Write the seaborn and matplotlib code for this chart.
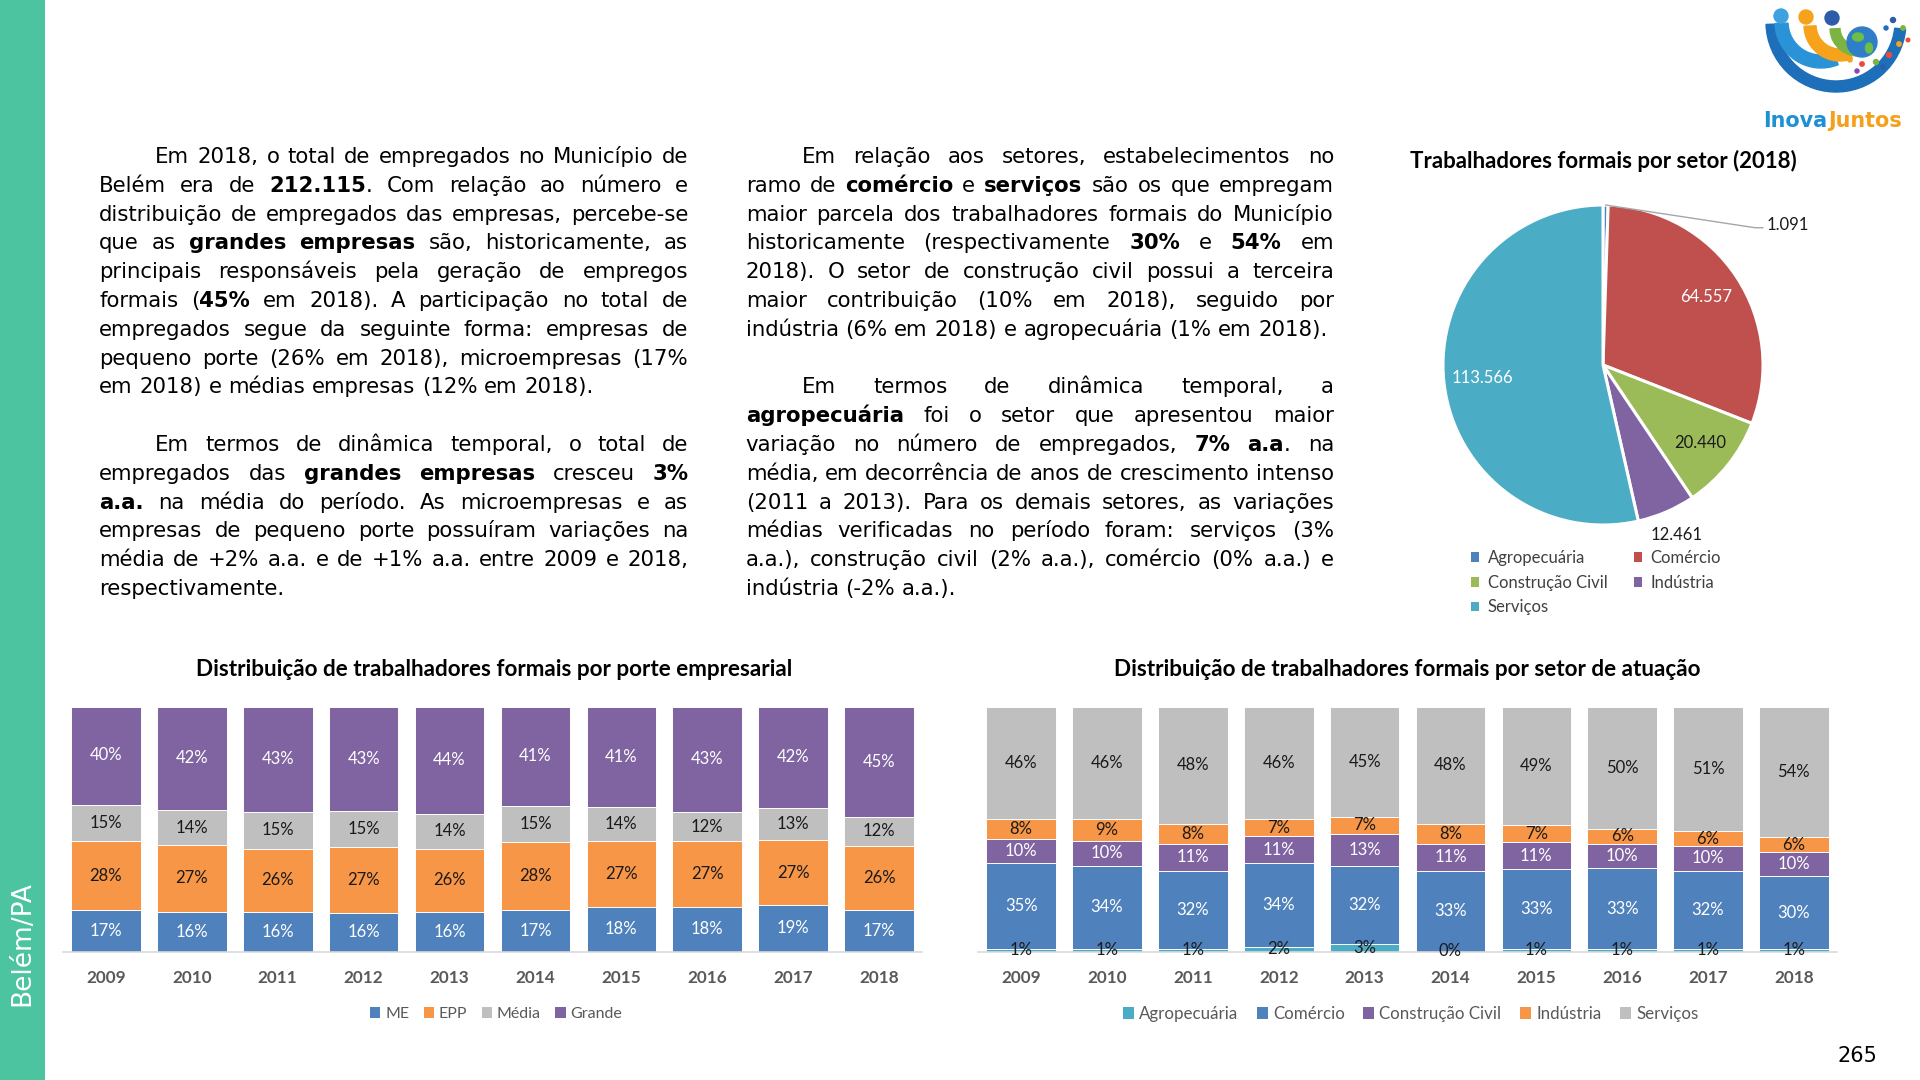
import numpy as np
import pandas as pd
import matplotlib
matplotlib.use("Agg")
import matplotlib.pyplot as plt
from matplotlib.patches import Patch, Rectangle, Wedge, Circle, Ellipse
import seaborn as sns

# ---------------- data ----------------
years = ["2009", "2010", "2011", "2012", "2013", "2014", "2015", "2016", "2017", "2018"]

porte_names = ["ME", "EPP", "Média", "Grande"]
porte_me = [17, 16, 16, 16, 16, 17, 18, 18, 19, 17]
porte_epp = [28, 27, 26, 27, 26, 28, 27, 27, 27, 26]
porte_media = [15, 14, 15, 15, 14, 15, 14, 12, 13, 12]
porte_grande = [40, 42, 43, 43, 44, 41, 41, 43, 42, 45]

setor_names = ["Agropecuária", "Comércio", "Construção Civil", "Indústria", "Serviços"]
setor_agro = [1, 1, 1, 2, 3, 0, 1, 1, 1, 1]
setor_comercio = [35, 34, 32, 34, 32, 33, 33, 33, 32, 30]
setor_construcao = [10, 10, 11, 11, 13, 11, 11, 10, 10, 10]
setor_industria = [8, 9, 8, 7, 7, 8, 7, 6, 6, 6]
setor_servicos = [46, 46, 48, 46, 45, 48, 49, 50, 51, 54]

pie_names = ["Agropecuária", "Comércio", "Construção Civil", "Indústria", "Serviços"]
pie_values = [1091, 64557, 20440, 12461, 113566]

title_porte = "Distribuição de trabalhadores formais por porte empresarial"
title_setor = "Distribuição de trabalhadores formais por setor de atuação"
title_pie = "Trabalhadores formais por setor (2018)"

# (text, indented first line, justified)
left_text = [
    ("Em 2018, o total de empregados no Município de", True, True),
    ("Belém era de **212.115**. Com relação ao número e", False, True),
    ("distribuição de empregados das empresas, percebe-se", False, True),
    ("que as **grandes empresas** são, historicamente, as", False, True),
    ("principais responsáveis pela geração de empregos", False, True),
    ("formais (**45%** em 2018). A participação no total de", False, True),
    ("empregados segue da seguinte forma: empresas de", False, True),
    ("pequeno porte (26% em 2018), microempresas (17%", False, True),
    ("em 2018) e médias empresas (12% em 2018).", False, False),
    None,
    ("Em termos de dinâmica temporal, o total de", True, True),
    ("empregados das **grandes empresas** cresceu **3%**", False, True),
    ("**a.a.** na média do período. As microempresas e as", False, True),
    ("empresas de pequeno porte possuíram variações na", False, True),
    ("média de +2% a.a. e de +1% a.a. entre 2009 e 2018,", False, True),
    ("respectivamente.", False, False),
]
mid_text = [
    ("Em relação aos setores, estabelecimentos no", True, True),
    ("ramo de **comércio** e **serviços** são os que empregam", False, True),
    ("maior parcela dos trabalhadores formais do Município", False, True),
    ("historicamente (respectivamente **30%** e **54%** em", False, True),
    ("2018). O setor de construção civil possui a terceira", False, True),
    ("maior contribuição (10% em 2018), seguido por", False, True),
    ("indústria (6% em 2018) e agropecuária (1% em 2018).", False, False),
    None,
    ("Em termos de dinâmica temporal, a", True, True),
    ("**agropecuária** foi o setor que apresentou maior", False, True),
    ("variação no número de empregados, **7% a.a**. na", False, True),
    ("média, em decorrência de anos de crescimento intenso", False, True),
    ("(2011 a 2013). Para os demais setores, as variações", False, True),
    ("médias verificadas no período foram: serviços (3%", False, True),
    ("a.a.), construção civil (2% a.a.), comércio (0% a.a.) e", False, True),
    ("indústria (-2% a.a.).", False, False),
]

# ---------------- style ----------------
sns.set_style("white")
CHART_FONT = ["Lato", "DejaVu Sans"]
BODY_FONT = ["DejaVu Sans"]
plt.rcParams["font.family"] = CHART_FONT

W, H = 1920, 1080
fig = plt.figure(figsize=(W / 100, H / 100), dpi=100)
fig.patch.set_facecolor("white")
renderer = fig.canvas.get_renderer()


def axes_px(x0, y0, x1, y1):
    return fig.add_axes([x0 / W, 1 - y1 / H, (x1 - x0) / W, (y1 - y0) / H])


def fxy(x, y):
    return (x / W, 1 - y / H)


_cache = {}


def measure(s, fs, bold, family=BODY_FONT):
    key = (s, round(fs, 4), bold, tuple(family))
    if key not in _cache:
        t = fig.text(0, 0, s, fontsize=fs, fontweight="bold" if bold else "normal", family=family)
        _cache[key] = t.get_window_extent(renderer).width
        t.remove()
    return _cache[key]


# ---------------- sidebar ----------------
fig.add_artist(Rectangle((0, 0), 45 / W, 1, transform=fig.transFigure,
                         facecolor="#4DC4A0", edgecolor="none", zorder=0))
fig.text(*fxy(22.5, 944), "Belém/PA", rotation=90, color="white", fontsize=19,
         ha="center", va="center", family=BODY_FONT)

# ---------------- body text (justified) ----------------
BASE0, LINE_H, INDENT = 163, 28.8, 56
COLS = [(left_text, 99.2, 688.2), (mid_text, 745.7, 1334.0)]


def parse(line):
    words, bold = [], False
    for raw in line.split(" "):
        parts = raw.split("**")
        runs = []
        for j, p in enumerate(parts):
            if j > 0:
                bold = not bold
            if p:
                runs.append((p, bold))
        words.append(runs)
    return words


def word_w(word, fs):
    return sum(measure(r, fs, b) for r, b in word)


fs_body = 10 * 496 / measure("em 2018) e médias empresas (12% em 2018).", 10, False)
for _ in range(2):
    space = measure("a a", fs_body, False) - measure("aa", fs_body, False)
    scale = 1.0
    for lines, x0, x1 in COLS:
        for item in lines:
            if item is None:
                continue
            text, ind, just = item
            words = parse(text)
            nat = sum(word_w(w, fs_body) for w in words) + 0.8 * space * (len(words) - 1)
            avail = x1 - x0 - (INDENT if ind else 0)
            if nat > avail:
                scale = min(scale, avail / nat)
    fs_body *= scale

space = measure("a a", fs_body, False) - measure("aa", fs_body, False)
for lines, x0, x1 in COLS:
    for row, item in enumerate(lines):
        if item is None:
            continue
        text, ind, just = item
        baseline = BASE0 + row * LINE_H
        start = x0 + (INDENT if ind else 0)
        words = parse(text)
        widths = [word_w(w, fs_body) for w in words]
        if just and len(words) > 1:
            gap = (x1 - start - sum(widths)) / (len(words) - 1)
        else:
            gap = space
        x = start
        for w, wd in zip(words, widths):
            xx = x
            for r, b in w:
                fig.text(*fxy(xx, baseline), r, fontsize=fs_body,
                         fontweight="bold" if b else "normal", family=BODY_FONT,
                         va="baseline", ha="left", color="black")
                xx += measure(r, fs_body, b)
            x += wd + gap


# ---------------- stacked bar charts ----------------
def stacked_bars(ax, names, series, colors, text_colors):
    df = pd.DataFrame(dict(zip(names, series)), index=years)
    share = df.div(df.sum(axis=1), axis=0)
    top = share.cumsum(axis=1)
    for name in reversed(names):
        sns.barplot(x=years, y=top[name].to_numpy(), color=colors[name], saturation=1,
                    width=0.81, errorbar=None, edgecolor="white", linewidth=0.7, ax=ax)
    mid = top - share / 2
    for i, yr in enumerate(years):
        for name in names:
            ax.text(i, mid.loc[yr, name], f"{df.loc[yr, name]}%", ha="center", va="center",
                    fontsize=12, color=text_colors[name], family=CHART_FONT)
    ax.set_xlim(-0.5, len(years) - 0.5)
    ax.set_ylim(0, 1)
    ax.set_xlabel("")
    ax.set_ylabel("")
    ax.set_yticks([])
    for s in ["top", "left", "right"]:
        ax.spines[s].set_visible(False)
    ax.spines["bottom"].set_color("#D9D9D9")
    ax.spines["bottom"].set_linewidth(1.2)
    ax.tick_params(axis="x", length=0, pad=13, labelsize=12.3, labelcolor="#595959")
    for lbl in ax.get_xticklabels():
        lbl.set_fontweight("bold")
    return [Patch(facecolor=colors[n], edgecolor="none", label=n) for n in names]


porte_colors = {"ME": "#4F81BD", "EPP": "#F79646", "Média": "#BFBFBF", "Grande": "#8064A2"}
porte_tc = {"ME": "white", "EPP": "#1A1A1A", "Média": "#1A1A1A", "Grande": "white"}
ax1 = axes_px(63.0, 706.5, 922.0, 951.5)
h1 = stacked_bars(ax1, porte_names, [porte_me, porte_epp, porte_media, porte_grande],
                  porte_colors, porte_tc)

setor_colors = {"Agropecuária": "#4BACC6", "Comércio": "#4F81BD", "Construção Civil": "#8064A2",
                "Indústria": "#F79646", "Serviços": "#BFBFBF"}
setor_tc = {"Agropecuária": "#1A1A1A", "Comércio": "white", "Construção Civil": "white",
            "Indústria": "#1A1A1A", "Serviços": "#1A1A1A"}
ax2 = axes_px(978.3, 706.5, 1836.8, 951.5)
h2 = stacked_bars(ax2, setor_names,
                  [setor_agro, setor_comercio, setor_construcao, setor_industria, setor_servicos],
                  setor_colors, setor_tc)

leg_kw = dict(loc="center", frameon=False, handlelength=0.65, handleheight=0.65,
              handletextpad=0.3, labelcolor="#595959", borderpad=0)
fig.legend(handles=h1, ncol=4, bbox_to_anchor=fxy(496, 1014), fontsize=11.5,
           columnspacing=0.9, **leg_kw)
fig.legend(handles=h2, ncol=5, bbox_to_anchor=fxy(1410.6, 1014), fontsize=12.2,
           columnspacing=1.1, **leg_kw)

# titles (width-calibrated)
fs_t1 = 10 * 599 / measure(title_porte, 10, True, CHART_FONT)
fs_tp = 10 * 387 / measure(title_pie, 10, True, CHART_FONT)
fig.text(*fxy(494, 670), title_porte, ha="center", va="center", fontsize=fs_t1,
         fontweight="bold", color="black")
fig.text(*fxy(1407.6, 670), title_setor, ha="center", va="center", fontsize=fs_t1,
         fontweight="bold", color="black")
fig.text(*fxy(1603, 160.5), title_pie, ha="center", va="center", fontsize=fs_tp,
         fontweight="bold", color="black")

# ---------------- pie ----------------
CX, CY, R = 1603, 365, 160
pad = 1.03
axp = axes_px(CX - R * pad, CY - R * pad, CX + R * pad, CY + R * pad)
pie_colors = ["#4F81BD", "#C0504D", "#9BBB59", "#8064A2", "#4BACC6"]
wedges, _ = axp.pie(pie_values, colors=pie_colors, startangle=90, counterclock=False,
                    radius=1, wedgeprops=dict(edgecolor="white", linewidth=2.2))
axp.set_xlim(-pad, pad)
axp.set_ylim(-pad, pad)
axp.set_aspect("equal")
axp.axis("off")

vals = np.array(pie_values, dtype=float)
frac = vals / vals.sum()
mid_ang = np.deg2rad(90 - 360 * (np.cumsum(frac) - frac / 2))


def fmt(v):
    return f"{v:,}".replace(",", ".")


label_r = [None, 0.77, 0.78, 1.16, 0.76]
label_c = [None, "white", "#1A1A1A", "#1A1A1A", "white"]
for i in range(1, len(pie_values)):
    a = mid_ang[i]
    axp.text(label_r[i] * np.cos(a), label_r[i] * np.sin(a), fmt(pie_values[i]),
             ha="center", va="center", fontsize=12, color=label_c[i])
a0 = mid_ang[0]
axp.plot([np.cos(a0), 0.95, 1.0], [np.sin(a0), 0.858, 0.858], color="#A6A6A6",
         lw=1, clip_on=False)
axp.text(1.02, 0.872, fmt(pie_values[0]), ha="left", va="center", fontsize=12,
         color="#1A1A1A")

pie_handles = [Patch(facecolor=c, edgecolor="none", label=n) for n, c in zip(pie_names, pie_colors)]
order = [0, 2, 4, 1, 3]
fs_leg = 12
fs_px = fs_leg * 100 / 72
w_col1 = measure("Construção Civil", fs_leg, False, CHART_FONT)
colsp = (163 - 1.0 * fs_px - w_col1) / fs_px
fig.legend(handles=[pie_handles[k] for k in order], ncol=2, loc="upper left",
           bbox_to_anchor=fxy(1471, 550), frameon=False, fontsize=fs_leg,
           handlelength=0.5, handleheight=0.5, handletextpad=0.5,
           columnspacing=colsp, labelspacing=0.52, borderpad=0, borderaxespad=0,
           labelcolor="#404040")

# ---------------- logo ----------------
axl = fig.add_axes([1760 / W, 1 - 140 / H, 160 / W, 140 / H])
axl.set_xlim(1760, 1920)
axl.set_ylim(140, 0)
axl.axis("off")
axl.add_patch(Wedge((1836, 22), 70, 6, 178, width=11, color="#1C6FB8"))
axl.add_patch(Wedge((1821, 22), 46, 68, 178, width=13, color="#2A93D8"))
axl.add_patch(Wedge((1840, 25), 36, 70, 178, width=12, color="#F7A21B"))
axl.add_patch(Wedge((1858, 28), 28, 76, 178, width=10, color="#7CB342"))
axl.add_patch(Circle((1781, 16), 7, color="#3FA2E0"))
axl.add_patch(Circle((1806, 17), 7, color="#F7A21B"))
axl.add_patch(Circle((1832, 18), 7, color="#2D5DA8"))
axl.add_patch(Circle((1862, 42), 15, color="#2F7FC8"))
axl.add_patch(Ellipse((1858, 37), 11, 8, color="#6DBE45"))
axl.add_patch(Ellipse((1869, 48), 7, 10, color="#6DBE45"))
for (x, y, r, c) in [(1893, 20, 2.5, "#2D5DA8"), (1903, 28, 2.2, "#7CB342"),
                     (1886, 28, 2.0, "#1C6FB8"), (1899, 44, 2.2, "#F7A21B"),
                     (1889, 55, 2.5, "#E84C3D"), (1876, 62, 2.5, "#7CB342"),
                     (1862, 64, 2.2, "#E84C3D"), (1850, 60, 2.0, "#F7A21B"),
                     (1857, 71, 2.0, "#8E44AD"), (1883, 67, 2.0, "#2D5DA8"),
                     (1908, 40, 1.8, "#E84C3D")]:
    axl.add_patch(Circle((x, y), r, color=c))
logo_font = ["DejaVu Sans"]
fs_logo = 10 * 138 / measure("InovaJuntos", 10, True, logo_font)
w_inova = measure("Inova", fs_logo, True, logo_font)
fig.text(*fxy(1763, 127), "Inova", fontsize=fs_logo, fontweight="bold", family=logo_font,
         color="#1E90D6", va="baseline", ha="left")
fig.text(*fxy(1763 + w_inova + 1, 127), "Juntos", fontsize=fs_logo, fontweight="bold",
         family=logo_font, color="#F5A01A", va="baseline", ha="left")

# ---------------- page number ----------------
fig.text(*fxy(1857.6, 1056), "265", ha="center", va="center", fontsize=15, color="black",
         family=BODY_FONT)

fig.savefig("out.png", dpi=100, facecolor="white")
